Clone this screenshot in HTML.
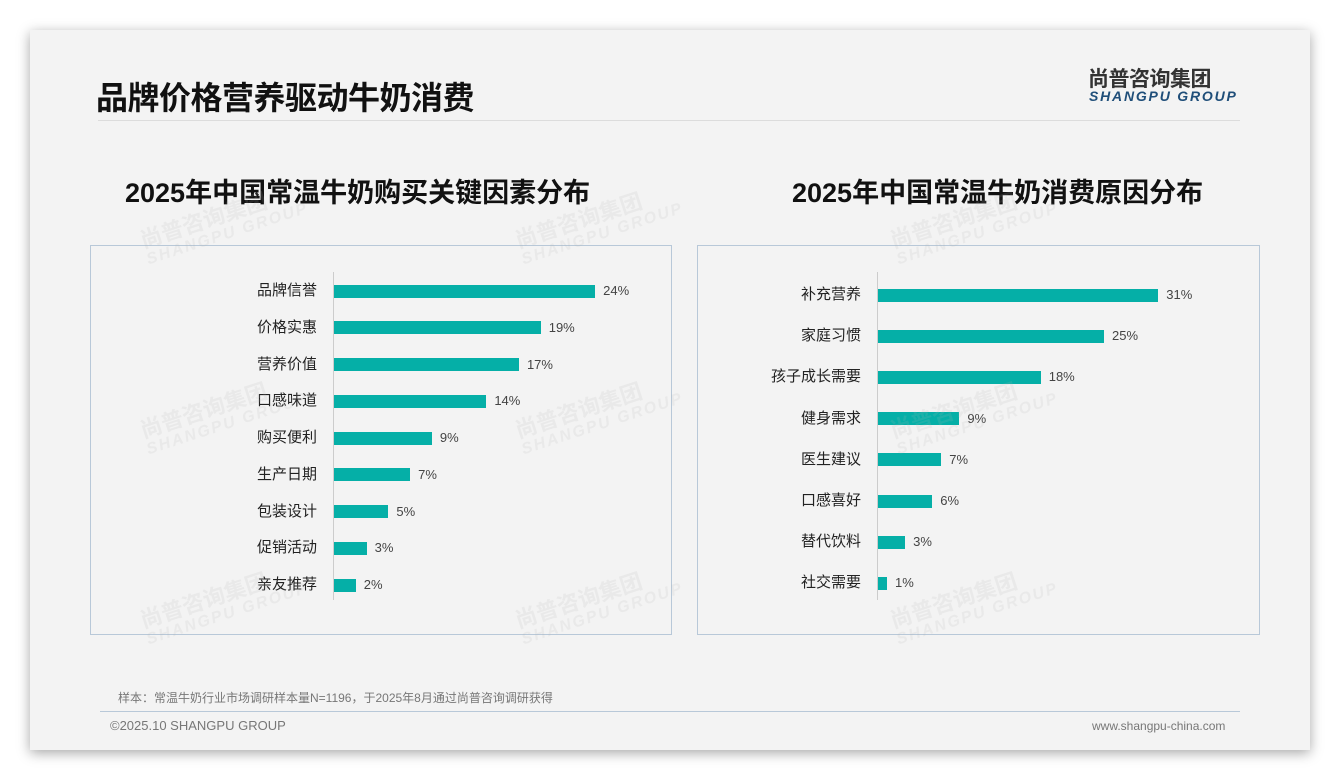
<!DOCTYPE html>
<html><head><meta charset="utf-8"><style>
*{margin:0;padding:0;box-sizing:border-box}
body{width:1340px;height:780px;background:#fff;position:relative;overflow:hidden;font-family:"Liberation Sans","Noto Sans CJK SC",sans-serif}
.slide{position:absolute;left:30px;top:30px;width:1280px;height:720px;background:#f3f3f3;box-shadow:0 3px 12px rgba(0,0,0,.35)}
.abs{position:absolute}
.title{left:96px;top:73px;font-size:32px;font-weight:bold;color:#111;letter-spacing:-0.5px}
.ct{font-size:27px;font-weight:bold;color:#111;top:171px;white-space:nowrap;letter-spacing:0}
.box{border:1px solid #b8c8d8;top:245px;height:390px}
.lab{font-size:15px;color:#222;text-align:right;width:120px;line-height:16px}
.bar{background:#05afa7;height:13px}
.val{font-size:13px;color:#444;line-height:14px}
.wm{color:rgba(180,180,180,.15);font-weight:bold;font-size:22px;transform:rotate(-18deg);line-height:20px;white-space:nowrap}
.wm span{display:block;font-size:16px;font-style:italic;letter-spacing:2px}
</style></head><body>
<div class="slide"></div>
<div class="abs title">品牌价格营养驱动牛奶消费</div>
<div class="abs" style="left:1088px;top:63px;font-size:21px;font-weight:bold;color:#333;letter-spacing:-0.5px">尚普咨询集团</div>
<div class="abs" style="left:1089px;top:88px;font-size:14px;font-style:italic;font-weight:bold;color:#1f4e79;letter-spacing:1.8px">SHANGPU GROUP</div>
<div class="abs" style="left:98px;top:120px;width:1142px;height:1px;background:#dcdcdc"></div>
<div class="abs ct" style="left:125px">2025年中国常温牛奶购买关键因素分布</div>
<div class="abs ct" style="left:792px">2025年中国常温牛奶消费原因分布</div>
<div class="abs box" style="left:90px;width:582px"></div>
<div class="abs box" style="left:697px;width:563px"></div>
<div class="abs" style="left:333px;top:272px;width:1px;height:328px;background:#ccc"></div>
<div class="abs" style="left:877px;top:272px;width:1px;height:328px;background:#ccc"></div>
<div id="c"></div>
<div class="abs" style="left:118px;top:689px;font-size:12px;color:#777">样本：常温牛奶行业市场调研样本量N=1196，于2025年8月通过尚普咨询调研获得</div>
<div class="abs" style="left:100px;top:711px;width:1140px;height:1px;background:#b8c8d8"></div>
<div class="abs" style="left:110px;top:718px;font-size:13px;color:#777">©2025.10 SHANGPU GROUP</div>
<div class="abs" style="left:1092px;top:719px;font-size:12px;color:#777">www.shangpu-china.com</div>
<script>
var h='';
var L=[["品牌信誉",24],["价格实惠",19],["营养价值",17],["口感味道",14],["购买便利",9],["生产日期",7],["包装设计",5],["促销活动",3],["亲友推荐",2]];
L.forEach(function(d,i){var y=291+i*36.75;var w=d[1]*10.88;
h+='<div class="abs lab" style="left:197px;top:'+(y-8)+'px">'+d[0]+'</div><div class="abs bar" style="left:334px;top:'+(y-6.5)+'px;width:'+w+'px"></div><div class="abs val" style="left:'+(342+w)+'px;top:'+(y-7)+'px">'+d[1]+'%</div>';});
var R=[["补充营养",31],["家庭习惯",25],["孩子成长需要",18],["健身需求",9],["医生建议",7],["口感喜好",6],["替代饮料",3],["社交需要",1]];
R.forEach(function(d,i){var y=295+i*41.2;var w=d[1]*9.04;
h+='<div class="abs lab" style="left:741px;top:'+(y-8)+'px">'+d[0]+'</div><div class="abs bar" style="left:878px;top:'+(y-6.5)+'px;width:'+w+'px"></div><div class="abs val" style="left:'+(886+w)+'px;top:'+(y-7)+'px">'+d[1]+'%</div>';});
[[140,205],[515,205],[890,205],[140,395],[515,395],[890,395],[140,585],[515,585],[890,585]].forEach(function(p){
h+='<div class="abs wm" style="left:'+p[0]+'px;top:'+p[1]+'px">尚普咨询集团<span>SHANGPU GROUP</span></div>';});
document.getElementById('c').innerHTML=h;
</script>
</body></html>
